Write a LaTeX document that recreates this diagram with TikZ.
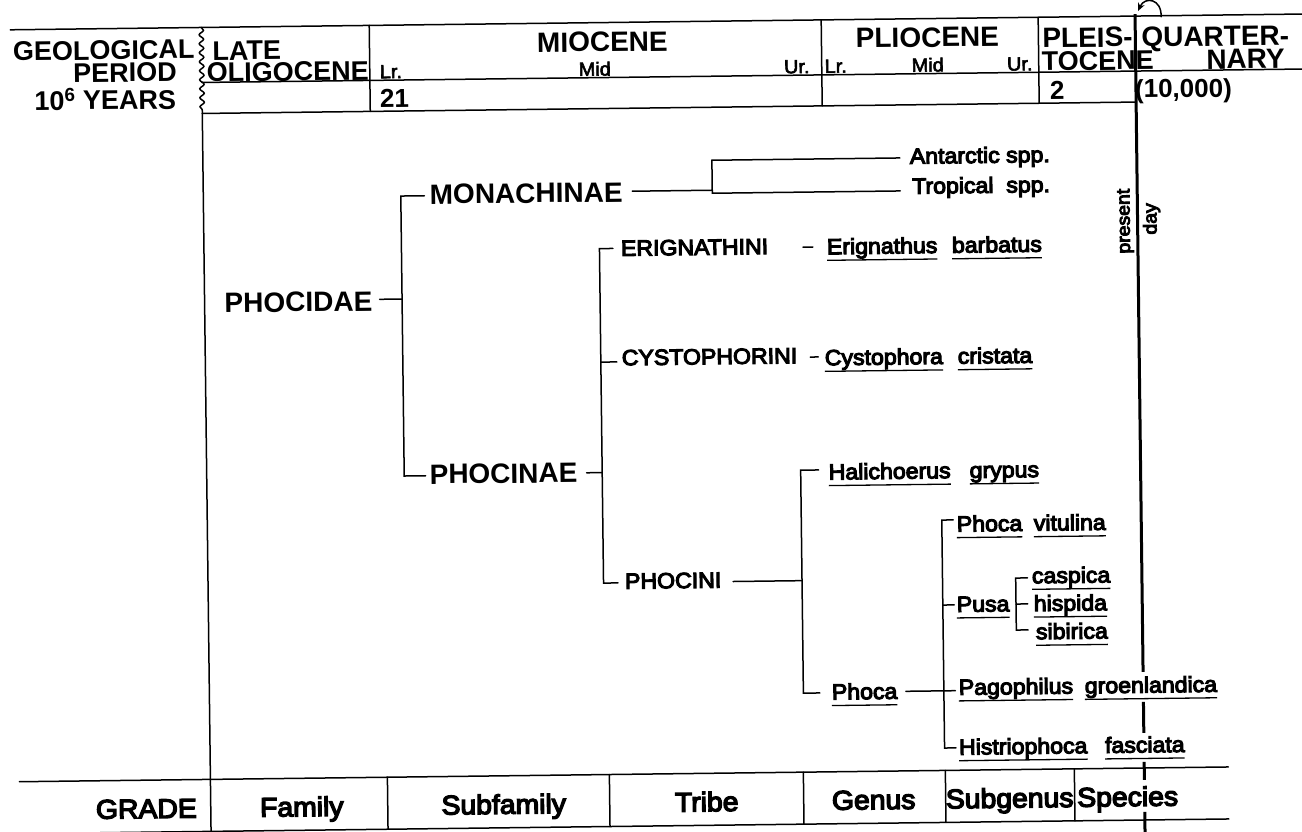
\documentclass[tikz,border=0pt]{standalone}
\usepackage{fontspec}
\setmainfont{Liberation Sans}
\newfontfamily\lmed{Liberation Sans}[FakeStretch=1.05,FakeBold=5]
\newfontfamily\llight{Liberation Sans}[FakeStretch=1.05,FakeBold=3]
\usetikzlibrary{decorations.pathmorphing,arrows.meta}
\newcommand\fbig{\fontsize{28}{30}\selectfont\bfseries}
\newcommand\fhead{\fontsize{27}{29}\selectfont\bfseries}
\newcommand\fnum{\fontsize{26}{28}\selectfont\bfseries}
\newcommand\fsm{\llight\fontsize{19}{20}\selectfont}
\newcommand\fsp{\lmed\fontsize{22}{24}\selectfont}
\newcommand\fpd{\lmed\fontsize{18.5}{20}\selectfont}
\newcommand\fgr{\lmed\fontsize{27}{29}\selectfont}
\newcommand\ulword[4]{\node[bw,font=\fsp] (#1) at (#2,#3) {#4};
  \draw[ul] ([yshift=-6pt]#1.base west) -- ([yshift=-6pt]#1.base east);}
\begin{document}
\begin{tikzpicture}[x=1pt,y=-1pt,
  ln/.style={line width=1.5pt,line cap=round},
  pd/.style={line width=3pt},
  ul/.style={line width=1.3pt},
  tx/.style={inner sep=0pt,outer sep=0pt},
  bw/.style={tx,anchor=base west},
  be/.style={tx,anchor=base east},
  bc/.style={tx,anchor=base}]
\fill[white] (0,0) rectangle (1302,832);
\useasboundingbox (0,0) rectangle (1302,832);
\begin{scope}[rotate around={0.7:(651,416)},transform shape]
% ---------------- header grid
\draw[ln] (15,22) -- (1310,22);
\draw[ln] (206,77) -- (1310,77);
\draw[ln] (206,108) -- (1140,108);
\draw[ln,decorate,decoration={snake,amplitude=2.2pt,segment length=9pt}] (206,22) -- (206,108);
\draw[ln] (374,22) -- (374,108);
\draw[ln] (826,22) -- (826,108);
\draw[ln] (1043,22) -- (1043,108);
\draw[ln] (206,108) -- (206,845);
% header texts
\node[be,font=\fhead] (geo) at (199,53) {GEOLOGICAL};
\node[be,font=\fhead] (per) at (181,75.5) {PERIOD};
\node[be,font=\fhead] (yrs) at (180,103) {10\textsuperscript{6} YEARS};
\node[bw,font=\fhead] (late) at (217,55) {LATE};
\node[bw,font=\fhead] (olig) at (211,76.5) {OLIGOCENE};
\node[bw,font=\fsm] (mlr) at (384,75) {Lr.};
\node[bc,font=\fbig] (mio) at (607,51) {MIOCENE};
\node[bc,font=\fsm] (mmid) at (599,75) {Mid};
\node[bc,font=\fsm] (mur) at (801,75) {Ur.};
\node[bc,font=\fsm] (plr) at (840,75) {Lr.};
\node[bc,font=\fbig] (plio) at (932,50.5) {PLIOCENE};
\node[bc,font=\fsm] (pmid) at (932,75) {Mid};
\node[bc,font=\fsm] (pur) at (1024,75) {Ur.};
\node[bw,font=\fbig] (pleis) at (1047,52.5) {PLEIS-};
\node[bw,font=\fhead] (toc) at (1046,75.5) {TOCENE};
\node[bw,font=\fbig] (quart) at (1146,53) {QUARTER-};
\node[be,font=\fbig] (nary) at (1289,76) {NARY};
\node[bw,font=\fnum] (n21) at (384,104.5) {21};
\node[bw,font=\fnum] (n2) at (1054,104.5) {2};
\node[bw,font=\fnum] (n10k) at (1139,104) {(10,000)};
% present-day line and arrow
\coordinate (pd0) at (1140,20);
\coordinate (pd1) at (1140,678);
\coordinate (pd2) at (1140,708);
\coordinate (pd3) at (1140,739);
\coordinate (pd4) at (1140,768);
\coordinate (pd5) at (1140,786);
\coordinate (pd6) at (1140,818);
\coordinate (pd7) at (1140,838);
\draw[pd] (pd0) -- (pd1);
\draw[pd] (pd2) -- (pd3);
\draw[pd] (pd4) -- (pd5);
\draw[pd] (pd6) -- (pd7);
\coordinate (arA) at (1166,23);
\coordinate (arB) at (1143,17);
\draw[ln,-{Stealth[length=8pt,width=7pt]}] (arA) .. controls (1167,5) and (1150,2) .. (arB);
\node[tx,font=\fpd,rotate=90] (pres) at (1128,227) {present};
\node[tx,font=\fpd,rotate=90] (day) at (1154,225) {day};
% ---------------- tree
\node[bw,font=\fbig] (phocidae) at (226,307.5) {PHOCIDAE};
\node[bw,font=\fbig] (mona) at (432.5,201.5) {MONACHINAE};
\node[bw,font=\fbig] (phocinae) at (429,481.5) {PHOCINAE};
\coordinate (famB) at (403.5,296);
\draw[ln] (381,296) -- (famB);
\draw[ln] (427,193) -- (403.5,193) -- (403.5,473) -- (425,473);
% Monachinae
\node[bw,font=\fsp] (ant) at (913,167) {Antarctic spp.};
\node[bw,font=\fsp] (trop) at (915,197) {Tropical\ \ spp.};
\draw[ln] (635,191) -- (715,191);
\draw[ln] (903,161) -- (715,161) -- (715,194) -- (903,194);
% Phocinae tribes
\draw[ln] (586,472) -- (601.5,472);
\draw[ln] (615,248) -- (601.5,248) -- (601.5,582.5) -- (616,582.5);
\draw[ln] (601.5,361.5) -- (617.5,361.5);
\node[bw,font=\fsp] (erig) at (623,255.5) {ERIGNATHINI};
\draw[ln] (805,249) -- (815,249);
\ulword{erigG}{829}{256.5}{Erignathus}
\ulword{erigS}{954}{256.5}{barbatus}
\node[bw,font=\fsp] (cyst) at (622.5,365) {CYSTOPHORINI};
\draw[ln] (811,359) -- (819,359);
\ulword{cystG}{825.5}{367.5}{Cystophora}
\ulword{cystS}{958.5}{367.5}{cristata}
\node[bw,font=\fsp] (phocini) at (623,588.5) {PHOCINI};
\draw[ln] (731,582.5) -- (800,582.5);
% genera
\draw[ln] (818,472) -- (800,472) -- (800,695) -- (816.5,695);
\ulword{haliG}{828}{481.8}{Halichoerus}
\ulword{haliS}{969}{481.8}{grypus}
\ulword{phocaG}{828.5}{701.8}{Phoca}
% subgenera
\draw[ln] (952,523.6) -- (940.5,523.6) -- (940.5,751.6) -- (952,751.6);
\draw[ln] (940.5,608.6) -- (952,608.6);
\draw[ln] (902.5,694.4) -- (952,694.4);
\ulword{vitG}{955.5}{535.4}{Phoca}
\ulword{vitS}{1032.5}{535.4}{vitulina}
\ulword{pusa}{954.5}{615.7}{Pusa}
\draw[ln] (1025.5,582.5) -- (1013.7,582.5) -- (1013.7,634.5) -- (1025.5,634.5);
\draw[ln] (1013.7,608.5) -- (1025.5,608.5);
\ulword{casp}{1030}{588}{caspica}
\ulword{hisp}{1031.5}{615.8}{hispida}
\ulword{sibi}{1033.3}{644}{sibirica}
\ulword{pagG}{955.5}{698.7}{Pagophilus}
\ulword{pagS}{1081.5}{698.7}{groenlandica}
\ulword{hisG}{955}{758.5}{Histriophoca}
\ulword{hisS}{1101}{758.5}{fasciata}
% ---------------- grade table
\draw[ln] (15,774) -- (1224,774);
\draw[ln] (15,826) -- (1224,826);
\draw[ln] (383,774) -- (383,826);
\draw[ln] (605,774) -- (605,826);
\draw[ln] (799,774) -- (799,826);
\draw[ln] (941,774) -- (941,826);
\draw[ln] (1070,774) -- (1070,826);
\node[be,font=\fgr] (grade) at (192,812) {GRADE};
\node[bc,font=\fgr] (gfam) at (297,812) {Family};
\node[bc,font=\fgr] (gsub) at (499,812) {Subfamily};
\node[bc,font=\fgr] (gtri) at (702,812) {Tribe};
\node[bc,font=\fgr] (ggen) at (869,812) {Genus};
\node[bc,font=\fgr] (gsg) at (1005,812) {Subgenus};
\node[bc,font=\fgr] (gsp) at (1123,812) {Species};
\end{scope}
\end{tikzpicture}
\end{document}
